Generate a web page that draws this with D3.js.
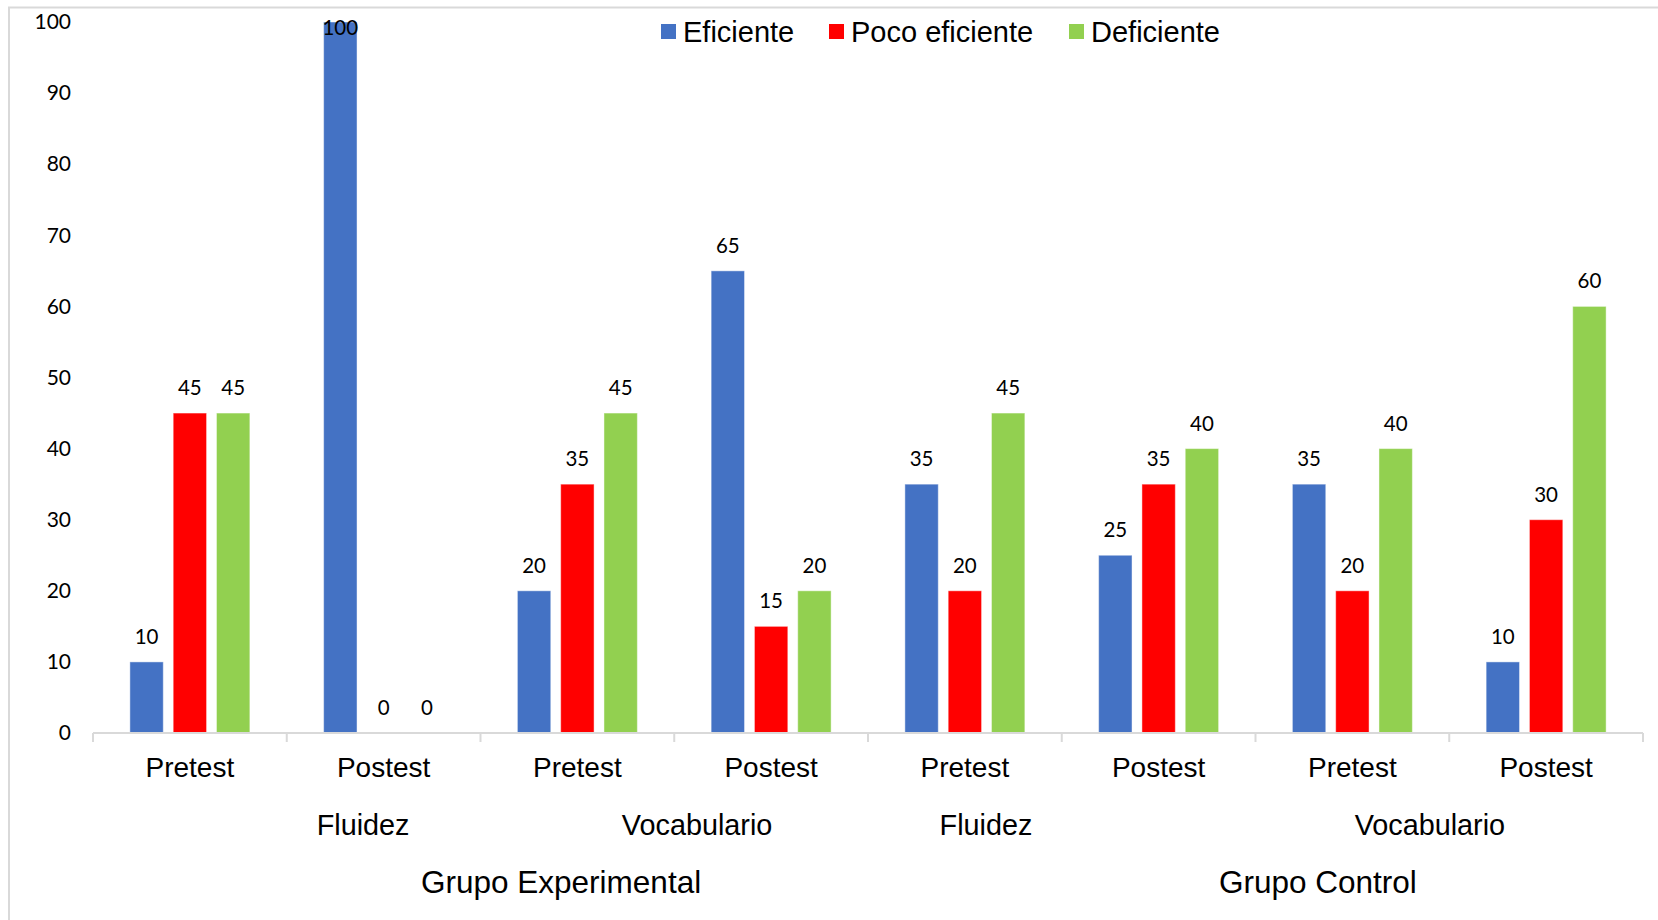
<!DOCTYPE html>
<html>
<head>
<meta charset="utf-8">
<script src="https://cdn.jsdelivr.net/npm/d3@7"></script>
<style>
  html, body { margin: 0; padding: 0; background: #fff; }
  svg { display: block; }
</style>
</head>
<body>
<svg id="chart" width="1658" height="920"></svg>
<script>
// ---- data ----
const categories = ["GE-F-Pre", "GE-F-Post", "GE-V-Pre", "GE-V-Post", "GC-F-Pre", "GC-F-Post", "GC-V-Pre", "GC-V-Post"];
const testLabels = ["Pretest", "Postest", "Pretest", "Postest", "Pretest", "Postest", "Pretest", "Postest"];
const seriesNames = ["Eficiente", "Poco eficiente", "Deficiente"];
const eficiente     = [10, 100, 20, 65, 35, 25, 35, 10];
const pocoEficiente = [45,   0, 35, 15, 20, 35, 20, 30];
const deficiente    = [45,   0, 45, 20, 45, 40, 40, 60];
const yTicks = [0, 10, 20, 30, 40, 50, 60, 70, 80, 90, 100];
const dimensionLabels = ["Fluidez", "Vocabulario", "Fluidez", "Vocabulario"];
const groupLabels = ["Grupo Experimental", "Grupo Control"];

// ---- layout (not data) ----
const colors = ["#4472C4", "#FF0000", "#92D050"];
const dimPos = [1.394, 3.118, 4.609, 6.90];   // in category units from axis start
const groupPos = [2.416, 6.322];

const svg = d3.select("#chart");
const seriesValues = [eficiente, pocoEficiente, deficiente];

// border
svg.append("rect")
  .attr("x", 9).attr("y", 7.5).attr("width", 1700).attr("height", 1000)
  .attr("fill", "none").attr("stroke", "#d9d9d9").attr("stroke-width", 2);

const x0 = d3.scaleBand().domain(categories).range([93, 1643]).paddingInner(0).paddingOuter(0);
const x1 = d3.scaleBand().domain(seriesNames).range([0, x0.bandwidth()]).paddingInner(0.229).paddingOuter(0.852);
const y = d3.scaleLinear().domain([0, 100]).range([733, 22]);
const xu = d3.scaleLinear().domain([0, categories.length]).range([93, 1643]);

// y axis labels
const yAxis = svg.append("g")
  .attr("transform", "translate(71,0)")
  .call(d3.axisLeft(y).tickValues(yTicks).tickSize(0).tickPadding(0));
yAxis.select(".domain").remove();
yAxis.selectAll("text")
  .attr("font-family", "Lato, 'Open Sans', sans-serif")
  .attr("font-size", 21).attr("fill", "#000");

// bars
const rows = categories.map((c, i) => ({ c, vals: seriesNames.map((s, k) => ({ s, k, v: seriesValues[k][i] })) }));
const gCat = svg.append("g").selectAll("g").data(rows).join("g")
  .attr("transform", d => `translate(${x0(d.c)},0)`);

gCat.selectAll("rect").data(d => d.vals).join("rect")
  .attr("x", d => x1(d.s))
  .attr("width", x1.bandwidth())
  .attr("y", d => y(d.v))
  .attr("height", d => y(0) - y(d.v))
  .attr("fill", d => colors[d.k])
  .attr("stroke", "#ffffff").attr("stroke-opacity", 0.45).attr("stroke-width", 1);

gCat.selectAll("text").data(d => d.vals).join("text")
  .attr("x", d => x1(d.s) + x1.bandwidth() / 2)
  .attr("y", d => Math.max(y(d.v) - 18, 35))
  .attr("text-anchor", "middle")
  .attr("font-family", "Lato, 'Open Sans', sans-serif")
  .attr("font-size", 20.5).attr("fill", "#000")
  .text(d => d.v);

// x axis line and ticks
const axisColor = "#d9d9d9";
svg.append("line")
  .attr("x1", x0.range()[0]).attr("x2", x0.range()[1])
  .attr("y1", 733).attr("y2", 733)
  .attr("stroke", axisColor).attr("stroke-width", 2);
const bounds = categories.map(c => x0(c)).concat([x0.range()[1]]);
svg.append("g").selectAll("line").data(bounds).join("line")
  .attr("x1", d => d).attr("x2", d => d)
  .attr("y1", 733).attr("y2", 742)
  .attr("stroke", axisColor).attr("stroke-width", 2);

// category labels
svg.append("g").selectAll("text").data(categories).join("text")
  .attr("x", (c) => x0(c) + x0.bandwidth() / 2)
  .attr("y", 777)
  .attr("text-anchor", "middle")
  .attr("font-family", "'Liberation Sans', Arial, sans-serif")
  .attr("font-size", 28).attr("fill", "#000")
  .text((c, i) => testLabels[i]);

// dimension labels
svg.append("g").selectAll("text").data(dimensionLabels).join("text")
  .attr("x", (d, i) => xu(dimPos[i]))
  .attr("y", 835)
  .attr("text-anchor", "middle")
  .attr("font-family", "'Liberation Sans', Arial, sans-serif")
  .attr("font-size", 28.8).attr("fill", "#000")
  .text(d => d);

// group labels
svg.append("g").selectAll("text").data(groupLabels).join("text")
  .attr("x", (d, i) => xu(groupPos[i]))
  .attr("y", 893)
  .attr("text-anchor", "middle")
  .attr("font-family", "'Liberation Sans', Arial, sans-serif")
  .attr("font-size", 31.5).attr("fill", "#000")
  .text(d => d);

// legend
const legendX = [661, 829, 1069];
const lg = svg.append("g").selectAll("g").data(seriesNames).join("g")
  .attr("transform", (d, i) => `translate(${legendX[i]},0)`);
lg.append("rect").attr("x", 0).attr("y", 24).attr("width", 15).attr("height", 15)
  .attr("fill", (d, i) => colors[i]);
lg.append("text").attr("x", 22).attr("y", 42)
  .attr("font-family", "'Liberation Sans', Arial, sans-serif")
  .attr("font-size", 29).attr("fill", "#000")
  .text(d => d);
</script>
</body>
</html>
